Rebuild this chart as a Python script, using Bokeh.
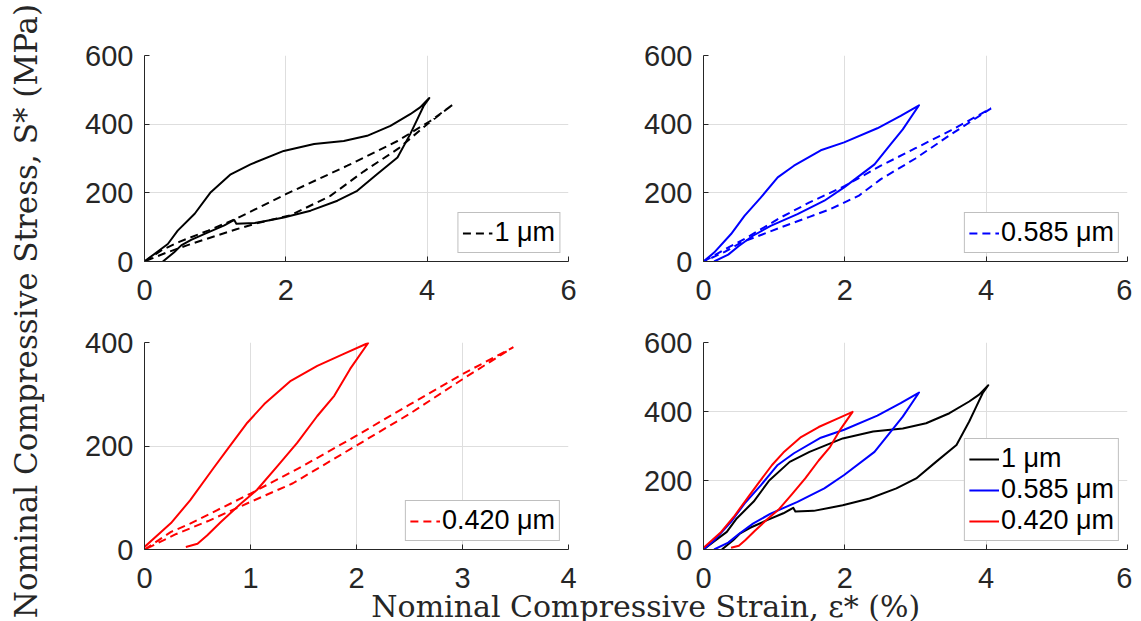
import math
from bokeh.plotting import figure
from bokeh.layouts import row, column
from bokeh.models import Range1d, FixedTicker, Label
from bokeh.embed import file_html
from bokeh.resources import INLINE

# ---------------- data (strain %, stress MPa) ----------------
# 1 um, experiment (solid loop: loading then unloading)
exp_1um_strain = [0, 0.14, 0.33, 0.47, 0.71, 0.93, 1.22, 1.5, 1.97, 2.4, 2.82, 3.15, 3.48, 3.76, 3.9, 4.03,
                  3.95, 3.86, 3.76, 3.58, 3.29, 3.01, 2.73, 2.35, 1.97, 1.79, 1.56, 1.30, 1.27, 1.13, 0.9,
                  0.66, 0.52, 0.42, 0.26]
exp_1um_stress = [0, 22, 51, 90, 139, 200, 254, 283, 322, 342, 351, 366, 395, 429, 449, 476,
                  453, 414, 371, 303, 254, 206, 177, 148, 128, 121, 112, 110, 121, 105, 85,
                  63, 47, 27, 0]
# 1 um, model (dashed loop)
sim_1um_strain = [0, 0.25, 0.5, 0.9, 1.27, 2.0, 2.87, 3.58, 4.05, 4.37,
                  4.0, 3.6, 3.1, 2.63, 2.07, 1.6, 1.3, 1.0, 0.6, 0.3, 0]
sim_1um_stress = [0, 34, 58, 90, 122, 196, 279, 351, 410, 458,
                  400, 330, 262, 191, 135, 112, 94, 74, 47, 25, 0]

# 0.585 um, experiment
exp_585_strain = [0, 0.15, 0.39, 0.58, 0.81, 1.05, 1.28, 1.66, 1.99, 2.46, 2.79, 3.05,
                  2.82, 2.65, 2.42, 1.99, 1.71, 1.33, 0.95, 0.7, 0.5, 0.35, 0.15]
exp_585_stress = [0, 26, 80, 133, 186, 245, 279, 324, 347, 388, 424, 455,
                  385, 342, 283, 216, 177, 138, 104, 75, 45, 20, 0]
# 0.585 um, model
sim_585_strain = [0, 0.3, 0.6, 1.09, 1.5, 2.0, 2.51, 3.0, 3.5, 4.07,
                  3.5, 3.0, 2.51, 2.2, 1.8, 1.5, 1.09, 0.53, 0.3, 0]
sim_585_stress = [0, 35, 68, 128, 172, 220, 279, 330, 382, 446,
                  370, 300, 240, 192, 153, 130, 99, 55, 28, 0]

# 0.420 um, experiment
exp_420_strain = [0, 0.25, 0.43, 0.65, 0.78, 0.97, 1.13, 1.38, 1.63, 1.88, 2.11,
                  1.94, 1.79, 1.63, 1.44, 1.25, 1.06, 0.91, 0.72, 0.59, 0.5, 0.39]
exp_420_stress = [5, 51, 95, 157, 193, 245, 281, 326, 355, 378, 399,
                  349, 297, 258, 206, 160, 115, 89, 53, 27, 11, 5]
# 0.420 um, model
sim_420_strain = [0, 0.25, 0.43, 1.0, 1.5, 2.0, 2.5, 3.0, 3.48,
                  3.0, 2.5, 2.0, 1.4, 1.0, 0.6, 0.3, 0]
sim_420_stress = [0, 34, 50, 108, 162, 220, 280, 339, 391,
                  329, 262, 201, 128, 92, 55, 30, 0]

labels = ["1 \u03bcm", "0.585 \u03bcm", "0.420 \u03bcm"]
colors = ["#000000", "#0000ff", "#ff0000"]

TICK_FONT = "Liberation Sans"
LABEL_FONT = "DejaVu Serif"


def make_panel(width, height, bl, br, bt, bb, xmax, ymax, xticks, yticks):
    p = figure(width=width, height=height, x_range=Range1d(0, xmax), y_range=Range1d(0, ymax),
               output_backend="svg", toolbar_location=None,
               min_border_left=bl, min_border_right=br, min_border_top=bt, min_border_bottom=bb)
    p.outline_line_color = None
    p.xaxis.ticker = FixedTicker(ticks=xticks)
    p.yaxis.ticker = FixedTicker(ticks=yticks)
    for ax in p.axis:
        ax.axis_line_color = "#262626"
        ax.axis_line_width = 1
        ax.major_tick_line_color = "#262626"
        ax.major_tick_in = 5
        ax.major_tick_out = 0
        ax.minor_tick_in = 0
        ax.minor_tick_out = 0
        ax.major_label_text_font = TICK_FONT
        ax.major_label_text_font_size = "29px"
        ax.major_label_text_color = "#262626"
    p.xaxis.major_label_standoff = 18
    p.yaxis.major_label_standoff = 11
    p.grid.grid_line_color = "#dedede"
    p.grid.grid_line_width = 1
    return p


def style_legend(p):
    lg = p.legend[0]
    lg.location = "bottom_right"
    lg.label_text_font = TICK_FONT
    lg.label_text_font_size = "27px"
    lg.label_text_color = "#000000"
    lg.border_line_color = "#808080"
    lg.border_line_width = 1
    lg.background_fill_color = "white"
    lg.background_fill_alpha = 1
    lg.glyph_width = 30
    lg.glyph_height = 20
    lg.label_standoff = 2
    lg.padding = 4
    lg.spacing = 0
    lg.margin = 8


DASH = "8 5"

# top-left: 1 um
p1 = make_panel(540, 317, 96, 20, 55, 56, 6, 600, [0, 2, 4, 6], [0, 200, 400, 600])
p1.line(sim_1um_strain, sim_1um_stress, color=colors[0], line_width=2, line_dash=DASH, legend_label=labels[0])
p1.line(exp_1um_strain, exp_1um_stress, color=colors[0], line_width=2, line_join="round")
style_legend(p1)

# top-right: 0.585 um
p2 = make_panel(544, 317, 115, 5, 55, 56, 6, 600, [0, 2, 4, 6], [0, 200, 400, 600])
p2.line(sim_585_strain, sim_585_stress, color=colors[1], line_width=2, line_dash=DASH, legend_label=labels[1])
p2.line(exp_585_strain, exp_585_stress, color=colors[1], line_width=2, line_join="round")
style_legend(p2)

# bottom-left: 0.420 um
p3 = make_panel(540, 286, 96, 20, 25, 54, 4, 400, [0, 1, 2, 3, 4], [0, 200, 400])
p3.line(sim_420_strain, sim_420_stress, color=colors[2], line_width=2, line_dash=DASH, legend_label=labels[2])
p3.line(exp_420_strain, exp_420_stress, color=colors[2], line_width=2, line_join="round")
style_legend(p3)

# bottom-right: comparison
p4 = make_panel(544, 286, 115, 5, 25, 54, 6, 600, [0, 2, 4, 6], [0, 200, 400, 600])
p4.line(exp_1um_strain, exp_1um_stress, color=colors[0], line_width=2, line_join="round", legend_label=labels[0])
p4.line(exp_585_strain, exp_585_stress, color=colors[1], line_width=2, line_join="round", legend_label=labels[1])
p4.line(exp_420_strain, exp_420_stress, color=colors[2], line_width=2, line_join="round", legend_label=labels[2])
style_legend(p4)

# y label
ylab = figure(width=48, height=621, x_range=Range1d(0, 1), y_range=Range1d(0, 1), title=None,
              output_backend="svg", toolbar_location=None, x_axis_location=None, y_axis_location=None,
              min_border=0)
ylab.outline_line_color = None
ylab.grid.visible = False
ylab.add_layout(Label(x=0.54, y=0.5, text="Nominal Compressive Stress, S* (MPa)", angle=math.pi / 2,
                      text_align="center", text_baseline="middle", text_font=LABEL_FONT,
                      text_font_size="31px", text_color="#262626"))

# x label (overlaps the transparent bottom margin of the lower row)
xlab = figure(width=1084, height=53, x_range=Range1d(0, 1), y_range=Range1d(0, 1), title=None,
              output_backend="svg", toolbar_location=None, x_axis_location=None, y_axis_location=None,
              min_border=0, margin=(-35, 0, 0, 0))
xlab.outline_line_color = None
xlab.border_fill_color = None
xlab.background_fill_color = None
xlab.grid.visible = False
xlab.add_layout(Label(x=0.551, y=0.283, text="Nominal Compressive Strain, \u03b5* (%)",
                      text_align="center", text_baseline="alphabetic", text_font=LABEL_FONT,
                      text_font_size="30px", text_color="#262626"))

layout = row(ylab, column(row(p1, p2), row(p3, p4), xlab))

with open("out.html", "w") as f:
    f.write(file_html(layout, INLINE))
